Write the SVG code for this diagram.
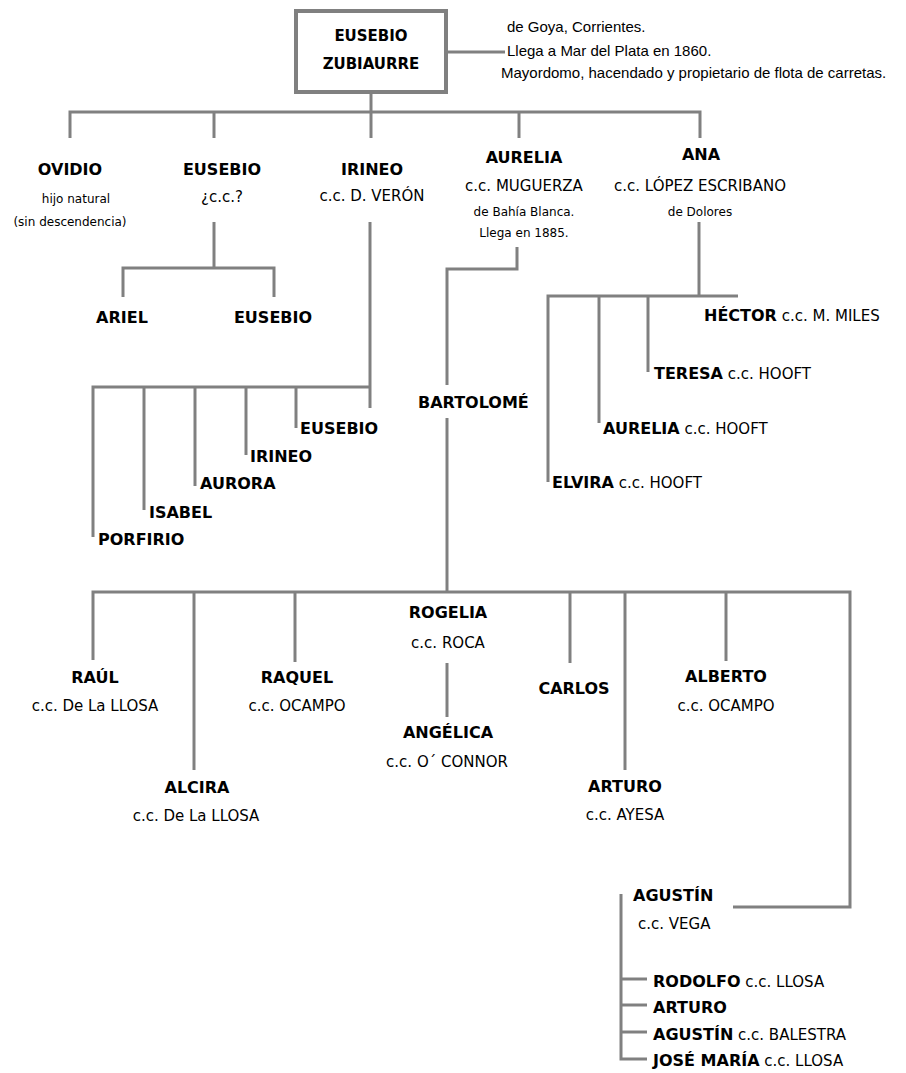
<svg xmlns="http://www.w3.org/2000/svg" width="906" height="1073" viewBox="0 0 906 1073">
<style>
.ln{stroke:#808080;stroke-width:3;fill:none}
.bx{stroke:#808080;stroke-width:4;fill:#fff}
text{font-family:"Comic Sans MS","DejaVu Sans",sans-serif;fill:#000}
.nm{font-weight:bold;font-size:16px}
.cc{font-size:15px}
.sm{font-size:12px}
.mid{text-anchor:middle}
.ds{font-family:"Liberation Sans",Arial,sans-serif;font-size:15px}
.b{font-weight:bold;font-size:16px}
</style>
<rect width="906" height="1073" fill="#fff"/>
<g id="connectors">
<path class="ln" d="M448,52 H505"/>
<path class="ln" d="M371,94 V138"/>
<path class="ln" d="M70,138 V112 H700 V138"/>
<path class="ln" d="M214,112 V138"/>
<path class="ln" d="M519,112 V138"/>
<path class="ln" d="M214,222 V268"/>
<path class="ln" d="M123,297 V268 H274 V297"/>
<path class="ln" d="M370,222 V408"/>
<path class="ln" d="M93,537 V387 H370"/>
<path class="ln" d="M144,387 V510"/>
<path class="ln" d="M195,387 V486"/>
<path class="ln" d="M246,387 V455"/>
<path class="ln" d="M296,387 V428"/>
<path class="ln" d="M517,247 V269 H447 V385"/>
<path class="ln" d="M447,418 V592"/>
<path class="ln" d="M93,660 V592 H850 V907 H733"/>
<path class="ln" d="M194,592 V770"/>
<path class="ln" d="M295,592 V662"/>
<path class="ln" d="M570,592 V663"/>
<path class="ln" d="M625,592 V770"/>
<path class="ln" d="M726,592 V661"/>
<path class="ln" d="M447,663 V717"/>
<path class="ln" d="M699,222 V296"/>
<path class="ln" d="M548,482 V296 H738"/>
<path class="ln" d="M599,296 V423"/>
<path class="ln" d="M648,296 V372"/>
<path class="ln" d="M621,894 V1059 H647"/>
<path class="ln" d="M621,979 H647"/>
<path class="ln" d="M621,1005 H647"/>
<path class="ln" d="M621,1032 H647"/>
</g>
<g id="n-eusebio-zubiaurre">
<rect class="bx" x="296" y="11" width="150" height="81"/>
<text class="nm mid" x="371" y="41" style="font-size:15px">EUSEBIO</text>
<text class="nm mid" x="371" y="69" style="font-size:15px">ZUBIAURRE</text>
</g>
<g id="n-description">
<text class="ds" x="507" y="32">de Goya, Corrientes.</text>
<text class="ds" x="507" y="56">Llega a Mar del Plata en 1860.</text>
<text class="ds" x="501" y="78">Mayordomo, hacendado y propietario de flota de carretas.</text>
</g>
<g id="n-ovidio">
<text class="nm mid" x="70" y="175">OVIDIO</text>
<text class="sm mid" x="76" y="203">hijo natural</text>
<text class="sm mid" x="70" y="226">(sin descendencia)</text>
</g>
<g id="n-eusebio">
<text class="nm mid" x="222" y="175">EUSEBIO</text>
<text class="cc mid" x="222" y="202">¿c.c.?</text>
</g>
<g id="n-irineo">
<text class="nm mid" x="372" y="175">IRINEO</text>
<text class="cc mid" x="372" y="201">c.c. D. VERÓN</text>
</g>
<g id="n-aurelia">
<text class="nm mid" x="524" y="163">AURELIA</text>
<text class="cc mid" x="524" y="191">c.c. MUGUERZA</text>
<text class="sm mid" x="524" y="216">de Bahía Blanca.</text>
<text class="sm mid" x="524" y="237">Llega en 1885.</text>
</g>
<g id="n-ana">
<text class="nm mid" x="701" y="160">ANA</text>
<text class="cc mid" x="700" y="191">c.c. LÓPEZ ESCRIBANO</text>
<text class="sm mid" x="700" y="216">de Dolores</text>
</g>
<g id="n-ariel"><text class="nm mid" x="122" y="323">ARIEL</text></g>
<g id="n-eusebio-2"><text class="nm mid" x="273" y="323">EUSEBIO</text></g>
<g id="n-eusebio-3"><text class="nm" x="300" y="434">EUSEBIO</text></g>
<g id="n-irineo-2"><text class="nm" x="250" y="462">IRINEO</text></g>
<g id="n-aurora"><text class="nm" x="200" y="489">AURORA</text></g>
<g id="n-isabel"><text class="nm" x="149" y="518">ISABEL</text></g>
<g id="n-porfirio"><text class="nm" x="98" y="545">PORFIRIO</text></g>
<g id="n-bartolome"><text class="nm" x="418" y="408">BARTOLOMÉ</text></g>
<g id="n-hector"><text class="cc" x="704" y="321"><tspan class="b">HÉCTOR</tspan> c.c. M. MILES</text></g>
<g id="n-teresa"><text class="cc" x="654" y="379"><tspan class="b">TERESA</tspan> c.c. HOOFT</text></g>
<g id="n-aurelia-2"><text class="cc" x="603" y="434"><tspan class="b">AURELIA</tspan> c.c. HOOFT</text></g>
<g id="n-elvira"><text class="cc" x="552" y="488"><tspan class="b">ELVIRA</tspan> c.c. HOOFT</text></g>
<g id="n-raul">
<text class="nm mid" x="95" y="683">RAÚL</text>
<text class="cc mid" x="95" y="711">c.c. De La LLOSA</text>
</g>
<g id="n-alcira">
<text class="nm mid" x="197" y="793">ALCIRA</text>
<text class="cc mid" x="196" y="821">c.c. De La LLOSA</text>
</g>
<g id="n-raquel">
<text class="nm mid" x="297" y="683">RAQUEL</text>
<text class="cc mid" x="297" y="711">c.c. OCAMPO</text>
</g>
<g id="n-rogelia">
<text class="nm mid" x="448" y="618">ROGELIA</text>
<text class="cc mid" x="448" y="648">c.c. ROCA</text>
</g>
<g id="n-angelica">
<text class="nm mid" x="448" y="738">ANGÉLICA</text>
<text class="cc mid" x="447" y="767">c.c. O´ CONNOR</text>
</g>
<g id="n-carlos"><text class="nm mid" x="574" y="694">CARLOS</text></g>
<g id="n-arturo">
<text class="nm mid" x="625" y="792">ARTURO</text>
<text class="cc mid" x="625" y="820">c.c. AYESA</text>
</g>
<g id="n-alberto">
<text class="nm mid" x="726" y="682">ALBERTO</text>
<text class="cc mid" x="726" y="711">c.c. OCAMPO</text>
</g>
<g id="n-agustin">
<text class="nm" x="633" y="901">AGUSTÍN</text>
<text class="cc" x="638" y="929">c.c. VEGA</text>
</g>
<g id="n-rodolfo"><text class="cc" x="653" y="987"><tspan class="b">RODOLFO</tspan> c.c. LLOSA</text></g>
<g id="n-arturo-2"><text class="nm" x="653" y="1013">ARTURO</text></g>
<g id="n-agustin-2"><text class="cc" x="653" y="1040"><tspan class="b">AGUSTÍN</tspan> c.c. BALESTRA</text></g>
<g id="n-jose-maria"><text class="cc" x="653" y="1066"><tspan class="b">JOSÉ MARÍA</tspan> c.c. LLOSA</text></g>
</svg>
